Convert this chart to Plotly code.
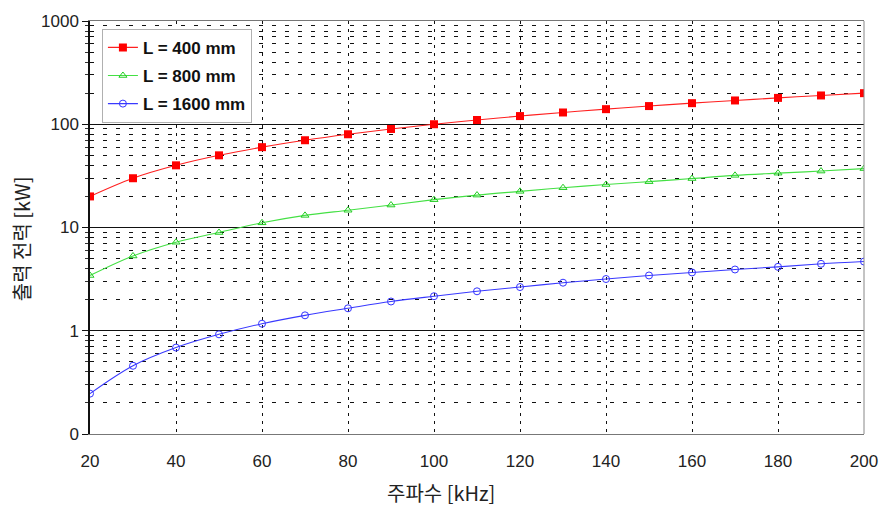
import plotly.graph_objects as go

freq = [20, 30, 40, 50, 60, 70, 80, 90, 100, 110, 120, 130, 140, 150, 160, 170, 180, 190, 200]
p_400 = [20, 30, 40, 50, 60, 70, 80, 90, 100, 110, 120, 130, 140, 150, 160, 170, 180, 190, 200]
p_800 = [3.43, 5.3, 7.2, 8.95, 11.1, 13.1, 14.7, 16.5, 18.6, 20.6, 22.4, 24.3, 26.1, 27.8, 29.8, 32.0, 33.6, 35.2, 37.2]
p_1600 = [0.246, 0.458, 0.687, 0.923, 1.17, 1.41, 1.65, 1.92, 2.16, 2.41, 2.65, 2.92, 3.17, 3.43, 3.67, 3.92, 4.16, 4.45, 4.68]

names = ["L = 400 mm", "L = 800 mm", "L = 1600 mm"]
y_tickvals = [0.1, 1, 10, 100, 1000]
y_ticktext = ["0", "1", "10", "100", "1000"]
x_tickvals = [20, 40, 60, 80, 100, 120, 140, 160, 180, 200]
y_minor = [k * 10 ** n for n in range(-1, 3) for k in range(2, 10)]

FONT = "Arial, Liberation Sans, Noto Sans CJK KR, sans-serif"
KFONT = "Noto Sans CJK KR, Arial, sans-serif"

fig = go.Figure()
fig.add_trace(go.Scatter(
    x=freq, y=p_400, name=names[0], mode="lines+markers", legendgroup="a",
    line=dict(color="#ff2020", width=1.1, shape="spline"),
    marker=dict(symbol="square", size=8, color="#ff0000"),
))
fig.add_trace(go.Scatter(
    x=freq, y=p_800, name=names[1], mode="lines+markers", legendgroup="b",
    line=dict(color="#44e044", width=1.1, shape="spline"),
    marker=dict(symbol="triangle-up-open", size=7, color="#22cc22", line=dict(width=1)),
))
fig.add_trace(go.Scatter(
    x=freq, y=p_1600, name=names[2], mode="lines+markers", legendgroup="c",
    line=dict(color="#3939ff", width=1.1, shape="spline"),
    marker=dict(symbol="circle-open", size=7, color="#3333ff", line=dict(width=1)),
))

fig.update_layout(
    width=890, height=518,
    margin=dict(l=90, r=22, t=17, b=84),
    paper_bgcolor="white", plot_bgcolor="white",
    font=dict(family=FONT, size=17, color="#222222"),
    showlegend=True,
    legend=dict(
        x=0.0154, y=0.981, xanchor="left", yanchor="top",
        bgcolor="white", bordercolor="#b0b0b0", borderwidth=1,
        font=dict(family=FONT, size=17, color="#111111", weight="bold"),
        tracegroupgap=3, itemwidth=30,
    ),
    xaxis=dict(
        range=[20, 200], tickmode="array", tickvals=x_tickvals,
        showgrid=True, gridcolor="#111111", gridwidth=1, griddash="3px,5px",
        showline=True, linecolor="#777777", linewidth=1, mirror=True,
        ticks="", ticklabelstandoff=12,
        zeroline=False,
    ),
    yaxis=dict(
        type="log", range=[-1, 3], tickmode="array",
        tickvals=y_tickvals, ticktext=y_ticktext,
        showgrid=True, gridcolor="#111111", gridwidth=1.3,
        showline=True, linecolor="#111111", linewidth=1.5,
        ticks="outside", ticklen=6, tickcolor="#111111",
        minor=dict(tickvals=y_minor, showgrid=True, gridcolor="#111111", gridwidth=1,
                   griddash="4px,9px", ticks="outside", ticklen=3, tickcolor="#333333"),
        zeroline=False,
    ),
    shapes=[dict(type="line", xref="paper", yref="paper", x0=1, x1=1, y0=0, y1=1,
                 line=dict(color="#888888", width=1))],
    annotations=[
        dict(text="주파수 [kHz]", xref="paper", yref="paper",
             x=(443 - 90) / 778, y=-(493 - 434) / 417, xanchor="center", yanchor="middle",
             showarrow=False, font=dict(family=KFONT, size=20, color="#222222")),
        dict(text="출력 전력 [kW]", xref="paper", yref="paper",
             x=-(90 - 22) / 778, y=(434 - 237) / 417, xanchor="center", yanchor="middle",
             textangle=-90, showarrow=False, font=dict(family=KFONT, size=20, color="#222222")),
    ],
)
fig.write_html("out.html")
